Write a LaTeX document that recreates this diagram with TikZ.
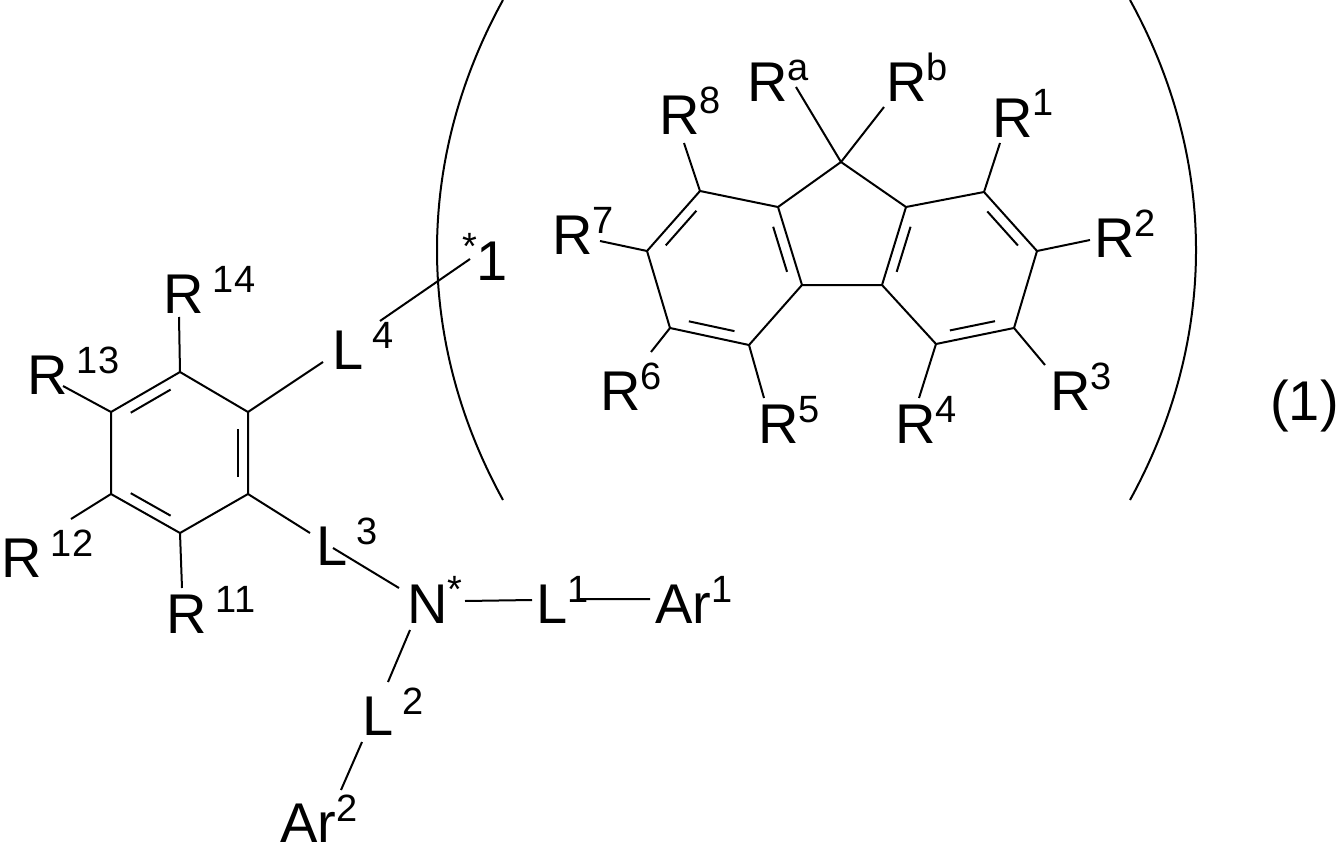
\documentclass[tikz,border=0pt]{standalone}
\usepackage{fontspec}
\setmainfont{Liberation Sans}
\usetikzlibrary{calc}
\newcommand\dbl[3]{\draw[bond] ($(#1)!0.16!(#2)!0.15!(#3)$) -- ($(#2)!0.16!(#1)!0.15!(#3)$);}
\newcommand\up[1]{\raisebox{21pt}{\fontsize{38}{38}\selectfont #1}}
\begin{document}
\begin{tikzpicture}[x=1pt,y=-1pt,
  lab/.style={inner sep=0pt,anchor=base west,font=\fontsize{56}{58}\selectfont},
  bond/.style={line width=2pt}]
\useasboundingbox (0,0) rectangle (1343,848);
% fluorene atoms
\coordinate (C9) at (841,162); \coordinate (C8a) at (778,207); \coordinate (C9a) at (906,207);
\coordinate (C4a) at (802,285); \coordinate (C4b) at (882,285);
\coordinate (C8) at (700,191); \coordinate (C7) at (647,251); \coordinate (C6) at (670,328); \coordinate (C5) at (749,345);
\coordinate (C1) at (984,192); \coordinate (C2) at (1037,251); \coordinate (C3) at (1014,328); \coordinate (C4) at (936,344);
\coordinate (OL) at (724,268); \coordinate (OR) at (958,268);
\draw[bond] (C9)--(C8a)--(C8)--(C7)--(C6)--(C5)--(C4a)--(C8a) (C4a)--(C4b)--(C9a)--(C9)
  (C9a)--(C1)--(C2)--(C3)--(C4)--(C4b);
\dbl{C8}{C7}{OL} \dbl{C6}{C5}{OL} \dbl{C8a}{C4a}{OL}
\dbl{C1}{C2}{OR} \dbl{C3}{C4}{OR} \dbl{C9a}{C4b}{OR}
% substituent bonds
\coordinate (eRa) at (796,87); \coordinate (eRb) at (884,107); \coordinate (eR8) at (684,143);
\coordinate (eR7) at (600,241); \coordinate (eR6) at (651,352); \coordinate (eR5) at (764,398);
\coordinate (eR4) at (919,398); \coordinate (eR1) at (1000,143); \coordinate (eR2) at (1090,240); \coordinate (eR3) at (1045,365);
\draw[bond] (C9)--(eRa) (C9)--(eRb) (C8)--(eR8) (C7)--(eR7) (C6)--(eR6) (C5)--(eR5)
  (C4)--(eR4) (C1)--(eR1) (C2)--(eR2) (C3)--(eR3);
\node[lab] (Ra) at (747,102) {R\up{a}};
\node[lab] (Rb) at (886,102) {R\up{b}};
\node[lab] (R8) at (659,135) {R\up{8}};
\node[lab] (R7) at (552,254) {R\up{7}};
\node[lab] (R6) at (600,410) {R\up{6}};
\node[lab] (R5) at (758,443) {R\up{5}};
\node[lab] (R4) at (895,443) {R\up{4}};
\node[lab] (R3) at (1050,410) {R\up{3}};
\node[lab] (R2) at (1094,257) {R\up{2}};
\node[lab] (R1) at (992,137) {R\up{1}};
% benzene
\coordinate (B1) at (180,372); \coordinate (B2) at (248,412); \coordinate (B3) at (248,494);
\coordinate (B4) at (180,533); \coordinate (B5) at (111,494); \coordinate (B6) at (111,412);
\coordinate (OB) at (180,453);
\draw[bond] (B1)--(B2)--(B3)--(B4)--(B5)--(B6)--cycle;
\dbl{B6}{B1}{OB} \dbl{B2}{B3}{OB} \dbl{B4}{B5}{OB}
\coordinate (eR14) at (179,317); \coordinate (eR13) at (63,386); \coordinate (eR12) at (71,519);
\coordinate (eR11) at (182,588); \coordinate (eL4) at (323,362); \coordinate (eL3) at (310,533);
\draw[bond] (B1)--(eR14) (B6)--(eR13) (B5)--(eR12) (B4)--(eR11) (B2)--(eL4) (B3)--(eL3);
\node[lab] (R14) at (163,313) {R\,\up{14}};
\node[lab] (R13) at (27,394) {R\,\up{13}};
\node[lab] (R12) at (1,577) {R\,\up{12}};
\node[lab] (R11) at (166,633) {R\,\up{11}};
\node[lab] (L4) at (332,369) {L\,\up{4}};
\node[lab] (L3) at (316,565) {L\,\up{3}};
\node[lab] (N) at (407,623) {N\up{*}};
\node[lab] (L1) at (536,623) {L\up{1}};
\node[lab] (Ar1) at (655,623) {Ar\up{1}};
\node[lab] (L2) at (362,735) {L\,\up{2}};
\node[lab] (Ar2) at (280,842) {Ar\up{2}};
\node[lab] (star) at (462,280) {\up{*}1};
\node[lab] (eq) at (1270,420) {(1)};
\coordinate (n1) at (333,548); \coordinate (n2) at (399,588);
\coordinate (n3) at (465,601); \coordinate (n4) at (532,600);
\coordinate (n5) at (580,599); \coordinate (n6) at (650,599);
\coordinate (n7) at (410,630); \coordinate (n8) at (388,682);
\coordinate (n9) at (362,742); \coordinate (n10) at (341,790);
\coordinate (s1) at (380,321); \coordinate (s2) at (470,259);
\draw[bond] (n1)--(n2) (n3)--(n4) (n5)--(n6) (n7)--(n8) (n9)--(n10) (s1)--(s2);
% parentheses
\coordinate (p1) at (503,0); \coordinate (p2) at (503,500);
\coordinate (p3) at (1130,0); \coordinate (p4) at (1130,500);
\draw[bond] (p1) .. controls (415,160) and (415,340) .. (p2);
\draw[bond] (p3) .. controls (1218,160) and (1218,340) .. (p4);
\end{tikzpicture}
\end{document}
